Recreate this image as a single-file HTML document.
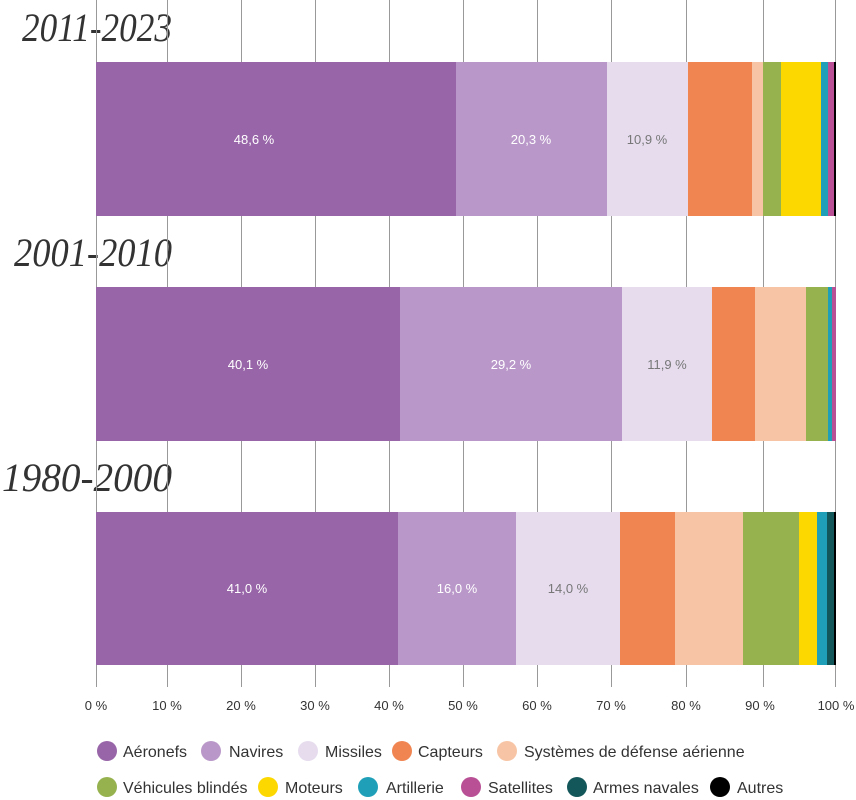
<!DOCTYPE html>
<html><head><meta charset="utf-8"><style>
html,body{margin:0;padding:0;background:#fff;}
svg{display:block;}
.lab{font-family:"Liberation Sans",sans-serif;font-size:13px;text-anchor:middle;}
.tick{font-family:"Liberation Sans",sans-serif;font-size:13px;fill:#333;text-anchor:middle;}
.leg{font-family:"Liberation Sans",sans-serif;font-size:16px;fill:#333;}
.ttl{font-family:"Liberation Serif",serif;font-style:italic;font-size:40px;fill:#333;text-anchor:end;}
</style></head><body>
<svg width="856" height="800" viewBox="0 0 856 800" xmlns="http://www.w3.org/2000/svg">
<text class="ttl" x="172" y="41" textLength="150" lengthAdjust="spacingAndGlyphs">2011-2023</text>
<text class="ttl" x="172" y="266" textLength="158" lengthAdjust="spacingAndGlyphs">2001-2010</text>
<text class="ttl" x="172" y="491" textLength="170" lengthAdjust="spacingAndGlyphs">1980-2000</text>
<!-- gridlines -->
<g stroke="#999" stroke-width="1">
<line x1="96.5" y1="0" x2="96.5" y2="687"/>
<line x1="167.5" y1="0" x2="167.5" y2="687"/>
<line x1="241.5" y1="0" x2="241.5" y2="687"/>
<line x1="315.5" y1="0" x2="315.5" y2="687"/>
<line x1="389.5" y1="0" x2="389.5" y2="687"/>
<line x1="463.5" y1="0" x2="463.5" y2="687"/>
<line x1="537.5" y1="0" x2="537.5" y2="687"/>
<line x1="611.5" y1="0" x2="611.5" y2="687"/>
<line x1="686.5" y1="0" x2="686.5" y2="687"/>
<line x1="763.5" y1="0" x2="763.5" y2="687"/>
<line x1="835.5" y1="0" x2="835.5" y2="687"/>
</g>
<g>
<rect x="96" y="62" width="360" height="154" fill="#9865a8"/>
<rect x="456" y="62" width="151" height="154" fill="#b998c9"/>
<rect x="607" y="62" width="81" height="154" fill="#e6dcee"/>
<rect x="688" y="62" width="64" height="154" fill="#f08552"/>
<rect x="752" y="62" width="11" height="154" fill="#f7c5a5"/>
<rect x="763" y="62" width="18" height="154" fill="#95b24f"/>
<rect x="781" y="62" width="40" height="154" fill="#fdd700"/>
<rect x="821" y="62" width="7" height="154" fill="#1fa0b8"/>
<rect x="828" y="62" width="6" height="154" fill="#b94f95"/>
<rect x="834" y="62" width="2" height="154" fill="#000"/>
</g>
<g>
<rect x="96" y="287" width="304" height="154" fill="#9865a8"/>
<rect x="400" y="287" width="222" height="154" fill="#b998c9"/>
<rect x="622" y="287" width="90" height="154" fill="#e6dcee"/>
<rect x="712" y="287" width="43" height="154" fill="#f08552"/>
<rect x="755" y="287" width="51" height="154" fill="#f7c5a5"/>
<rect x="806" y="287" width="22" height="154" fill="#95b24f"/>
<rect x="828" y="287" width="4" height="154" fill="#1fa0b8"/>
<rect x="832" y="287" width="4" height="154" fill="#b94f95"/>
</g>
<g>
<rect x="96" y="512" width="302" height="153" fill="#9865a8"/>
<rect x="398" y="512" width="118" height="153" fill="#b998c9"/>
<rect x="516" y="512" width="104" height="153" fill="#e6dcee"/>
<rect x="620" y="512" width="55" height="153" fill="#f08552"/>
<rect x="675" y="512" width="68" height="153" fill="#f7c5a5"/>
<rect x="743" y="512" width="56" height="153" fill="#95b24f"/>
<rect x="799" y="512" width="18" height="153" fill="#fdd700"/>
<rect x="817" y="512" width="10" height="153" fill="#1fa0b8"/>
<rect x="827" y="512" width="7" height="153" fill="#14575a"/>
<rect x="834" y="512" width="2" height="153" fill="#000"/>
</g>
<g class="tick">
<text x="96" y="710">0 %</text><text x="167" y="710">10 %</text><text x="241" y="710">20 %</text>
<text x="315" y="710">30 %</text><text x="389" y="710">40 %</text><text x="463" y="710">50 %</text>
<text x="537" y="710">60 %</text><text x="611" y="710">70 %</text><text x="686" y="710">80 %</text>
<text x="760" y="710">90 %</text><text x="836" y="710">100 %</text>
</g>
<g class="lab">
<text x="254" y="144" fill="#fff">48,6 %</text>
<text x="531" y="144" fill="#fff">20,3 %</text>
<text x="647" y="144" fill="#777">10,9 %</text>
<text x="248" y="369" fill="#fff">40,1 %</text>
<text x="511" y="369" fill="#fff">29,2 %</text>
<text x="667" y="369" fill="#777">11,9 %</text>
<text x="247" y="593" fill="#fff">41,0 %</text>
<text x="457" y="593" fill="#fff">16,0 %</text>
<text x="568" y="593" fill="#777">14,0 %</text>
</g>
<g>
<circle cx="107" cy="751" r="10" fill="#9865a8"/><text class="leg" x="123" y="757">Aéronefs</text>
<circle cx="211" cy="751" r="10" fill="#b998c9"/><text class="leg" x="229" y="757">Navires</text>
<circle cx="308" cy="751" r="10" fill="#e6dcee"/><text class="leg" x="325" y="757">Missiles</text>
<circle cx="402" cy="751" r="10" fill="#f08552"/><text class="leg" x="418" y="757">Capteurs</text>
<circle cx="507" cy="751" r="10" fill="#f7c5a5"/><text class="leg" x="524" y="757">Systèmes de défense aérienne</text>
<circle cx="107" cy="787" r="10" fill="#95b24f"/><text class="leg" x="123" y="793">Véhicules blindés</text>
<circle cx="268" cy="787" r="10" fill="#fdd700"/><text class="leg" x="285" y="793">Moteurs</text>
<circle cx="368" cy="787" r="10" fill="#1fa0b8"/><text class="leg" x="386" y="793">Artillerie</text>
<circle cx="471" cy="787" r="10" fill="#b94f95"/><text class="leg" x="488" y="793">Satellites</text>
<circle cx="577" cy="787" r="10" fill="#14575a"/><text class="leg" x="593" y="793">Armes navales</text>
<circle cx="720" cy="787" r="10" fill="#000"/><text class="leg" x="737" y="793">Autres</text>
</g>
</svg>
</body></html>
